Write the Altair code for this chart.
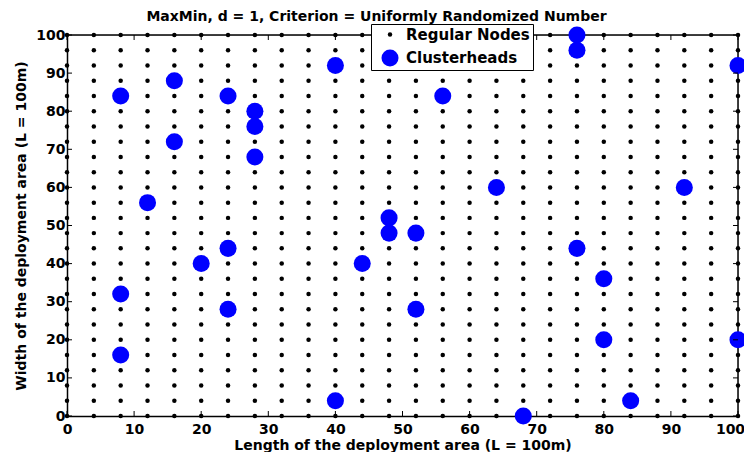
import altair as alt
import pandas as pd

# Regular node grid coordinates (both axes)
grid_vals = [0, 4, 8, 12, 16, 20, 24, 28, 32, 36, 40, 44, 48, 52, 56, 60, 64, 68, 72, 76, 80, 84, 88, 92, 96, 100]

# Clusterheads
ch_x = [8, 16, 16, 24, 28, 28, 28, 40, 56, 76, 76, 100, 12, 64, 92, 48, 48, 52, 44, 24, 20, 8, 24, 52, 8, 40, 68, 76, 80, 80, 84, 100]
ch_y = [84, 88, 72, 84, 80, 76, 68, 92, 84, 100, 96, 92, 56, 60, 60, 52, 48, 48, 40, 44, 40, 32, 28, 28, 16, 4, 0, 44, 36, 20, 4, 20]

tick_vals = [0, 10, 20, 30, 40, 50, 60, 70, 80, 90, 100]

W, H = 671, 381

rows = []
for gx in grid_vals:
    for gy in grid_vals:
        rows.append({"x": gx, "y": gy, "type": "Regular Nodes"})
for cx, cy in zip(ch_x, ch_y):
    rows.append({"x": cx, "y": cy, "type": "Clusterheads"})
df = pd.DataFrame(rows)
ticks = pd.DataFrame({"t": tick_vals})

FONT = "DejaVu Sans"

xs = alt.Scale(domain=[0, 100], nice=False, zero=False)
ys = alt.Scale(domain=[0, 100], nice=False, zero=False)

xaxis = alt.Axis(values=tick_vals, ticks=False, grid=False, domainColor="black", domainWidth=1.5,
                 labelFont=FONT, labelFontSize=14, labelFontWeight="bold", labelColor="black",
                 labelPadding=6, labelOverlap=False, labelFlush=False,
                 labelOffset=alt.condition("datum.value == 100", alt.value(-8), alt.value(0)),
                 title="Length of the deployment area (L = 100m)",
                 titleFont=FONT, titleFontSize=14, titleFontWeight="bold", titleColor="black",
                 titlePadding=2)
yaxis = alt.Axis(values=tick_vals, ticks=False, grid=False, domainColor="black", domainWidth=1.5,
                 labelFont=FONT, labelFontSize=14, labelFontWeight="bold", labelColor="black",
                 labelPadding=2, labelOverlap=False, labelFlush=False,
                 title="Width of the deployment area (L = 100m)",
                 titleFont=FONT, titleFontSize=14, titleFontWeight="bold", titleColor="black",
                 titlePadding=7)

points = alt.Chart(df).mark_circle(opacity=1).encode(
    x=alt.X("x:Q", scale=xs, axis=xaxis),
    y=alt.Y("y:Q", scale=ys, axis=yaxis),
    color=alt.Color("type:N", scale=alt.Scale(domain=["Regular Nodes", "Clusterheads"], range=["black", "#0000ff"]),
                    legend=alt.Legend(title=None, orient="none", legendX=304, legendY=-11,
                                      fillColor="white", strokeColor="black", padding=3,
                                      labelFont=FONT, labelFontSize=15, labelFontWeight="bold",
                                      labelColor="black", rowPadding=6, labelOffset=7,
                                      symbolOffset=7, symbolStrokeWidth=0)),
    size=alt.Size("type:N", scale=alt.Scale(domain=["Regular Nodes", "Clusterheads"], range=[20, 290]), legend=None),
    order=alt.Order("ord:Q"),
).transform_calculate(ord="datum.type == 'Clusterheads' ? 1 : 0")

base_t = alt.Chart(ticks)
bottom = base_t.mark_rule(color="black", strokeWidth=1).encode(
    x=alt.X("t:Q", scale=xs, axis=xaxis), y=alt.value(H), y2=alt.value(H - 5))
top = base_t.mark_rule(color="black", strokeWidth=1).encode(
    x=alt.X("t:Q", scale=xs, axis=xaxis), y=alt.value(0), y2=alt.value(5))
left = base_t.mark_rule(color="black", strokeWidth=1).encode(
    y=alt.Y("t:Q", scale=ys, axis=yaxis), x=alt.value(0), x2=alt.value(5))
right = base_t.mark_rule(color="black", strokeWidth=1).encode(
    y=alt.Y("t:Q", scale=ys, axis=yaxis), x=alt.value(W), x2=alt.value(W - 5))
# top and right frame lines
frame = alt.Chart(pd.DataFrame({"t": [100]})).mark_rule(color="black", strokeWidth=1.5).encode(
    y=alt.Y("t:Q", scale=ys, axis=yaxis), x=alt.value(0), x2=alt.value(W))
frame_r = alt.Chart(pd.DataFrame({"t": [100]})).mark_rule(color="black", strokeWidth=1.5).encode(
    x=alt.X("t:Q", scale=xs, axis=xaxis), y=alt.value(0), y2=alt.value(H))

chart = alt.layer(frame, frame_r, points, bottom, top, left, right).properties(
    width=W, height=H,
    title=alt.Title("MaxMin, d = 1, Criterion = Uniformly Randomized Number",
                    font=FONT, fontSize=14, fontWeight="bold", color="black", offset=0,
                    frame="group", anchor="middle", dx=-26),
    autosize=alt.AutoSizeParams(type="none"),
    padding={"left": 59, "top": 27, "right": 6, "bottom": 36},
).configure_view(stroke="black", strokeWidth=1.5).configure(background="white")

chart.save("out.html", embed_options={"renderer": "svg", "actions": False})
